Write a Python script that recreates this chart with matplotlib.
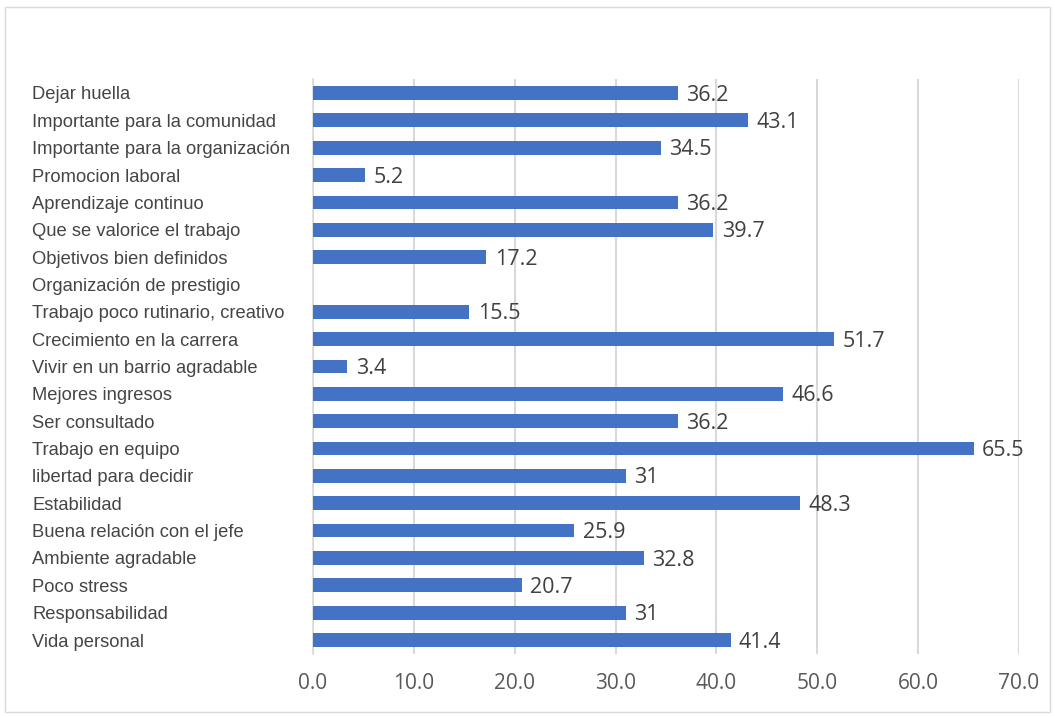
import matplotlib
matplotlib.use("Agg")
import matplotlib.pyplot as plt
from matplotlib.patches import Rectangle

categories = [
    "Dejar huella",
    "Importante para la comunidad",
    "Importante para la organización",
    "Promocion laboral",
    "Aprendizaje continuo",
    "Que se valorice el trabajo",
    "Objetivos bien definidos",
    "Organización de prestigio",
    "Trabajo poco rutinario, creativo",
    "Crecimiento en la carrera",
    "Vivir en un barrio agradable",
    "Mejores ingresos",
    "Ser consultado",
    "Trabajo en equipo",
    "libertad para decidir",
    "Estabilidad",
    "Buena relación con el jefe",
    "Ambiente agradable",
    "Poco stress",
    "Responsabilidad",
    "Vida personal",
]
values = [36.2, 43.1, 34.5, 5.2, 36.2, 39.7, 17.2, None, 15.5, 51.7, 3.4,
          46.6, 36.2, 65.5, 31, 48.3, 25.9, 32.8, 20.7, 31, 41.4]
value_labels = ["36.2", "43.1", "34.5", "5.2", "36.2", "39.7", "17.2", "", "15.5",
                "51.7", "3.4", "46.6", "36.2", "65.5", "31", "48.3", "25.9",
                "32.8", "20.7", "31", "41.4"]
xticks = [0, 10, 20, 30, 40, 50, 60, 70]
xtick_labels = ["0.0", "10.0", "20.0", "30.0", "40.0", "50.0", "60.0", "70.0"]

W, H, DPI = 1055, 718, 100
fig = plt.figure(figsize=(W / DPI, H / DPI), dpi=DPI)
fig.patch.set_facecolor("white")
fig.add_artist(Rectangle((5 / W, 1 - 712 / H), (1050 - 5) / W, (712 - 7) / H,
                         transform=fig.transFigure, fill=False,
                         edgecolor="#d9d9d9", linewidth=1.0))

ax = fig.add_axes([313 / W, 1 - 653.7 / H, (1019 - 313) / W, (653.7 - 79.3) / H])
n = len(categories)
ypos = list(range(n))
vals = [v if v is not None else 0 for v in values]
ax.barh(ypos, vals, height=0.5, color="#4472C4", zorder=3)
ax.set_ylim(n - 0.5, -0.5)
ax.set_xlim(0, 70)
ax.set_xticks(xticks)
ax.set_xticklabels(xtick_labels, fontfamily="Open Sans", fontsize=15, color="#595959")
ax.set_yticks(ypos)
ax.set_yticklabels(categories, fontfamily="Liberation Sans", fontsize=13.2, color="#454545")
for lab in ax.get_yticklabels():
    lab.set_horizontalalignment("left")
ax.tick_params(axis="y", length=0, pad=(313 - 32) * 72 / DPI)
ax.tick_params(axis="x", length=0, pad=14)
for s in ["top", "right", "bottom"]:
    ax.spines[s].set_visible(False)
ax.spines["left"].set_color("#d9d9d9")
ax.spines["left"].set_linewidth(1.2)
ax.grid(axis="x", color="#d9d9d9", linewidth=1.5, zorder=0)
ax.set_axisbelow(True)

for y, v, t in zip(ypos, vals, value_labels):
    if t:
        ax.annotate(t, (v, y), xytext=(6, -1.5), textcoords="offset points",
                    va="center", ha="left", fontfamily="Open Sans", fontsize=15.5,
                    color="#404040")

fig.savefig("out.png", dpi=DPI)
